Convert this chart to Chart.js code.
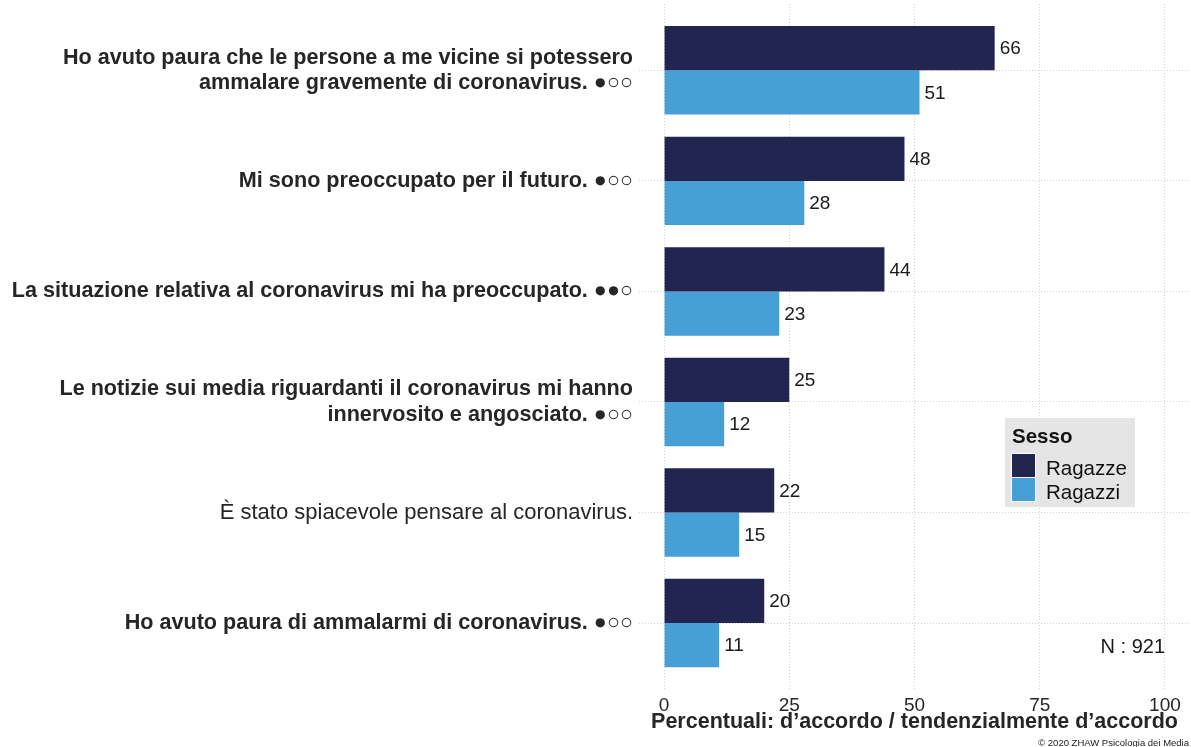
<!DOCTYPE html>
<html>
<head>
<meta charset="utf-8">
<script src="https://cdn.jsdelivr.net/npm/chart.js@4/dist/chart.umd.min.js"></script>
<style>
  html, body { margin: 0; padding: 0; background: #fff; }
  canvas { display: block; }
</style>
</head>
<body>
<canvas id="chartContainer" width="1191" height="747"></canvas>
<script>
const categories = [
    ['Ho avuto paura che le persone a me vicine si potessero', 'ammalare gravemente di coronavirus. ●○○'],
    'Mi sono preoccupato per il futuro. ●○○',
    'La situazione relativa al coronavirus mi ha preoccupato. ●●○',
    ['Le notizie sui media riguardanti il coronavirus mi hanno', 'innervosito e angosciato. ●○○'],
    'È stato spiacevole pensare al coronavirus.',
    'Ho avuto paura di ammalarmi di coronavirus. ●○○'
];
const ragazze = [66, 48, 44, 25, 22, 20];
const ragazzi = [51, 28, 23, 12, 15, 11];
const xTicks = [0, 25, 50, 75, 100];
const seriesNames = ['Ragazze', 'Ragazzi'];
const seriesColors = ['#232551', '#469fd6'];
// items not in bold (no scale marker)
const plainItems = [4];
const sampleSize = 921;

const FONT = "'Liberation Sans', Arial, Helvetica, sans-serif";
const TEXT = '#262626';

// values next to bar ends
const valueLabels = {
    id: 'valueLabels',
    afterDatasetsDraw(chart) {
        const ctx = chart.ctx;
        ctx.save();
        ctx.font = '19px ' + FONT;
        ctx.fillStyle = '#1a1a1a';
        ctx.textAlign = 'left';
        ctx.textBaseline = 'middle';
        chart.data.datasets.forEach((ds, di) => {
            chart.getDatasetMeta(di).data.forEach((bar, i) => {
                ctx.fillText(ds.data[i].x, bar.x + 5, bar.y + 1);
            });
        });
        ctx.restore();
    }
};

// legend box, sample size and footer
const extras = {
    id: 'extras',
    afterDraw(chart) {
        const ctx = chart.ctx;
        ctx.save();
        ctx.fillStyle = '#e5e5e5';
        ctx.fillRect(1005, 418, 130, 89);
        ctx.fillStyle = '#111';
        ctx.textBaseline = 'alphabetic';
        ctx.textAlign = 'left';
        ctx.font = 'bold 20.5px ' + FONT;
        ctx.fillText('Sesso', 1012, 443);
        ctx.font = '20.5px ' + FONT;
        chart.data.datasets.forEach((ds, i) => {
            const y = 454 + i * 24;
            ctx.fillStyle = ds.backgroundColor;
            ctx.fillRect(1012, y, 23, 23);
            ctx.strokeStyle = '#fff';
            ctx.lineWidth = 1;
            ctx.strokeRect(1011.5, y - 0.5, 24, 24);
            ctx.fillStyle = '#111';
            ctx.fillText(ds.label, 1046, y + 21);
        });

        ctx.font = '20px ' + FONT;
        ctx.textAlign = 'right';
        ctx.textBaseline = 'middle';
        ctx.fillStyle = '#1a1a1a';
        ctx.fillText('N : ' + sampleSize, 1165, 647);

        ctx.font = '9.5px ' + FONT;
        ctx.fillText('© 2020 ZHAW Psicologia dei Media', 1189, 743);
        ctx.restore();
    }
};

function noPadding(scale) {
    scale.paddingTop = 0;
    scale.paddingBottom = 0;
    scale.paddingLeft = 0;
    scale.paddingRight = 0;
}

const chart = new Chart(document.getElementById('chartContainer'), {
    type: 'bar',
    data: {
        datasets: [ragazze, ragazzi].map((vals, s) => ({
            label: seriesNames[s],
            data: vals.map((v, i) => ({ x: v, y: i })),
            backgroundColor: seriesColors[s],
            borderWidth: 0,
            categoryPercentage: 0.8,
            barPercentage: 1.0
        }))
    },
    options: {
        indexAxis: 'y',
        responsive: false,
        maintainAspectRatio: false,
        animation: false,
        devicePixelRatio: 1,
        layout: { padding: { top: 4, right: 1, left: 0, bottom: 0 } },
        plugins: {
            legend: { display: false },
            tooltip: { enabled: false }
        },
        scales: {
            x: {
                type: 'linear',
                min: -5,
                max: 105,
                afterBuildTicks: scale => { scale.ticks = xTicks.map(v => ({ value: v })); },
                afterFit: scale => { scale.height = 57.6; noPadding(scale); },
                grid: { color: '#d4d4d4', lineWidth: 1, drawTicks: false },
                border: { display: false, dash: [1, 2] },
                ticks: {
                    padding: 5,
                    color: TEXT,
                    font: { family: FONT, size: 19 },
                    maxRotation: 0
                },
                title: {
                    display: true,
                    text: 'Percentuali: d’accordo / tendenzialmente d’accordo',
                    color: TEXT,
                    font: { family: FONT, size: 21.5, weight: 'bold' },
                    padding: { top: 0, bottom: 12 }
                }
            },
            y: {
                type: 'linear',
                min: -0.6,
                max: 5.6,
                reverse: true,
                offset: false,
                afterBuildTicks: scale => { scale.ticks = categories.map((c, i) => ({ value: i })); },
                afterFit: scale => { scale.width = 639; noPadding(scale); },
                grid: { color: '#d4d4d4', lineWidth: 1, drawTicks: false, offset: false },
                border: { display: false, dash: [1, 2] },
                ticks: {
                    padding: 6,
                    color: TEXT,
                    autoSkip: false,
                    callback: value => categories[value],
                    font: ctx => plainItems.includes(ctx.index)
                        ? { family: FONT, size: 22, lineHeight: 1.15, weight: 'normal' }
                        : { family: FONT, size: 21.6, lineHeight: 1.17, weight: 'bold' }
                }
            }
        }
    },
    plugins: [valueLabels, extras]
});
</script>
</body>
</html>
